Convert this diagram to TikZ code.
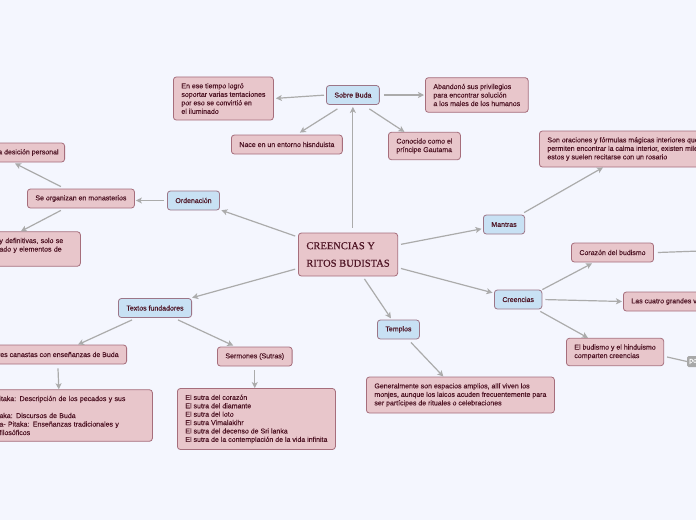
\documentclass[tikz,border=0pt]{standalone}
\usepackage{fontspec}
\setmainfont{Liberation Sans}
\newfontfamily\nodefont{Liberation Sans}[FakeBold=0.35]
\newfontfamily\titlefont{Liberation Serif}[FakeBold=0.6]
\usetikzlibrary{arrows.meta,calc}
\definecolor{bg}{HTML}{F4F6FE}
\definecolor{pinkfill}{HTML}{E8C6CB}
\definecolor{pinkline}{HTML}{A66E7C}
\definecolor{bluefill}{HTML}{C8E1F4}
\definecolor{blueline}{HTML}{9C7688}
\definecolor{txt}{HTML}{4E1424}
\definecolor{linegray}{HTML}{ABABAB}
\definecolor{tagfill}{HTML}{A8A8A8}
\begin{document}
\begin{tikzpicture}[x=1pt,y=-1pt,
 base/.style={rounded corners=3pt, line width=0.8pt, text=txt, font=\nodefont\fontsize{7}{8.5}\selectfont, align=left, inner xsep=8pt, inner ysep=6.2pt, minimum height=19pt},
 pinkbox/.style={base, draw=pinkline, fill=pinkfill},
 bluebox/.style={base, draw=blueline, fill=bluefill},
 conn/.style={draw=linegray, line width=1.2pt, -{Stealth[length=6pt,width=6pt,inset=1.5pt]}},
 gap/.style={shorten <=3pt, shorten >=1.5pt},
 link/.style={draw=linegray, line width=1.2pt}]
\useasboundingbox (0,0) rectangle (696,520);
\fill[bg] (0,0) rectangle (696,520);
\clip (0,0) rectangle (696,520);

% central node
\node[pinkbox, anchor=west, minimum height=43pt, font=\titlefont\fontsize{10.5}{17.5}\selectfont, text=txt] (title) at (298,254.5) {CREENCIAS Y\\RITOS BUDISTAS};

% Sobre Buda branch
\node[bluebox, anchor=west] (sobre) at (326,95) {Sobre Buda};
\node[pinkbox, anchor=west] (enese) at (173,98.5) {En ese tiempo logró\\soportar varias tentaciones\\por eso se convirtió en\\el iluminado};
\node[pinkbox, anchor=west] (nace) at (231,144.5) {Nace en un entorno hisnduista};
\node[pinkbox, anchor=west] (aband) at (425,95) {Abandonó sus privilegios\\para encontrar solución\\a los males de los humanos};
\node[pinkbox, anchor=west] (conoc) at (388,146) {Conocido como el\\príncipe Gautama};

% Ordenación branch
\node[bluebox, anchor=west] (orden) at (167,200.5) {Ordenación};
\node[pinkbox, anchor=west] (seorg) at (27,198.5) {Se organizan en monasterios};
\node[pinkbox, anchor=east, inner xsep=6pt] (desic) at (65,152.5) {a desición personal};
\node[pinkbox, anchor=west, text width=73pt] (defin) at (-9,249) {y definitivas, solo se\\ado y elementos de\\\mbox{}};

% Textos fundadores branch
\node[bluebox, anchor=west] (textos) at (118,308) {Textos fundadores};
\node[pinkbox, anchor=east] (tres) at (127,354.5) {res canastas con enseñanzas de Buda};
\node[pinkbox, anchor=west, text width=145pt] (bigleft) at (-9,415.5) {itaka: Descripción de los pecados y sus\\\mbox{}\\aka: Discursos de Buda\\a- Pitaka: Enseñanzas tradicionales y\\filosóficos};
\node[pinkbox, anchor=west] (serm) at (217,356.5) {Sermones (Sutras)};
\node[pinkbox, anchor=west, font=\nodefont\fontsize{7}{8.4}\selectfont] (sutras) at (177,419) {El sutra del corazón\\El sutra del diamante\\El sutra del loto\\El sutra Vimalakihr\\El sutra del decenso de Sri lanka\\El sutra de la contemplación de la vida infinita};

% Templos branch
\node[bluebox, anchor=west] (templos) at (377,329.5) {Templos};
\node[pinkbox, anchor=west] (gen) at (366,395) {Generalmente son espacios amplios, allí viven los\\monjes, aunque los laicos acuden frecuentemente para\\ser partícipes de rituales o celebraciones};

% Mantras branch
\node[bluebox, anchor=west] (mantras) at (483,224.5) {Mantras};
\node[pinkbox, anchor=west] (son) at (539,149) {Son oraciones y fórmulas mágicas interiores que\\permiten encontrar la calma interior, existen miles\\estos y suelen recitarse con un rosario};

% Creencias branch
\node[bluebox, anchor=west] (creencias) at (494,299.5) {Creencias};
\node[pinkbox, anchor=west] (corazon) at (571,252.5) {Corazón del budismo};
\node[pinkbox, anchor=west] (cuatro) at (623,301.5) {Las cuatro grandes v};
\node[pinkbox, anchor=west] (budhin) at (566,352) {El budismo y el hinduismo\\comparten creencias};
\node[anchor=west, fill=tagfill, text=white, rounded corners=1.5pt, inner xsep=2pt, inner ysep=1pt, minimum height=11pt, font=\nodefont\fontsize{7}{8.5}\selectfont] (po) at (687,361.5) {po};
\coordinate (offr) at (700,251);

% connectors from centre
\draw[conn, shorten <=5pt, shorten >=2pt] (sobre.south |- title.north) -- (sobre.south);
\draw[conn, gap] (title) -- (orden);
\draw[conn, gap] (title) -- (textos);
\draw[conn, gap] (title) -- (templos);
\draw[conn, gap] (title) -- (mantras);
\draw[conn, gap] (title) -- (creencias);

% Sobre Buda
\draw[conn, shorten <=2pt, shorten >=2pt] (sobre.west) -- (enese.east);
\draw[conn] ([xshift=-15.5pt,yshift=-4pt]sobre.south) -- ([xshift=13pt,yshift=2pt]nace.north);
\draw[conn, shorten <=4pt, shorten >=1pt] (sobre.east) -- (aband.west |- sobre.east);
\draw[conn] ([xshift=16.5pt,yshift=-4pt]sobre.south) -- ([xshift=-20pt]conoc.north);

% Ordenación
\draw[conn, shorten <=3pt, shorten >=1pt] (orden.west) -- (seorg.east |- orden.west);
\draw[conn] ([xshift=-20pt,yshift=2pt]seorg.north) -- ([xshift=-50pt,yshift=-1pt]desic.south east);
\draw[conn] ([xshift=-20pt,yshift=-2pt]seorg.south) -- ([xshift=-60pt]defin.north east);

% Textos fundadores
\draw[conn] ([xshift=-23pt,yshift=-2pt]textos.south) -- ([xshift=-49pt]tres.north east);
\draw[conn] ([xshift=23pt,yshift=-2pt]textos.south) -- ([xshift=-21.5pt,yshift=1pt]serm.north);
\draw[conn] ([xshift=-69pt,yshift=-4pt]tres.south east) -- ([xshift=-94pt]bigleft.north east);
\draw[conn, shorten <=4pt] (serm.south) -- (serm.south |- sutras.north);

% Templos
\draw[conn] ([xshift=12.5pt,yshift=-3pt]templos.south) -- ([xshift=-17pt]gen.north);

% Mantras
\draw[conn] ([xshift=-1pt,yshift=2pt]mantras.north east) -- ([xshift=64pt]son.south west);

% Creencias
\draw[conn] (creencias.north east) -- ([xshift=21pt,yshift=-1pt]corazon.south west);
\draw[conn, shorten <=3pt, shorten >=1pt] (creencias.east) -- (cuatro.west);
\draw[conn] ([xshift=-2pt,yshift=-2pt]creencias.south east) -- ([xshift=22pt]budhin.north west);
\draw[link] ([xshift=4pt]corazon.east) -- (offr);
\draw[link] ([xshift=3pt,yshift=-5pt]budhin.east) -- (po.west);
\end{tikzpicture}
\end{document}
